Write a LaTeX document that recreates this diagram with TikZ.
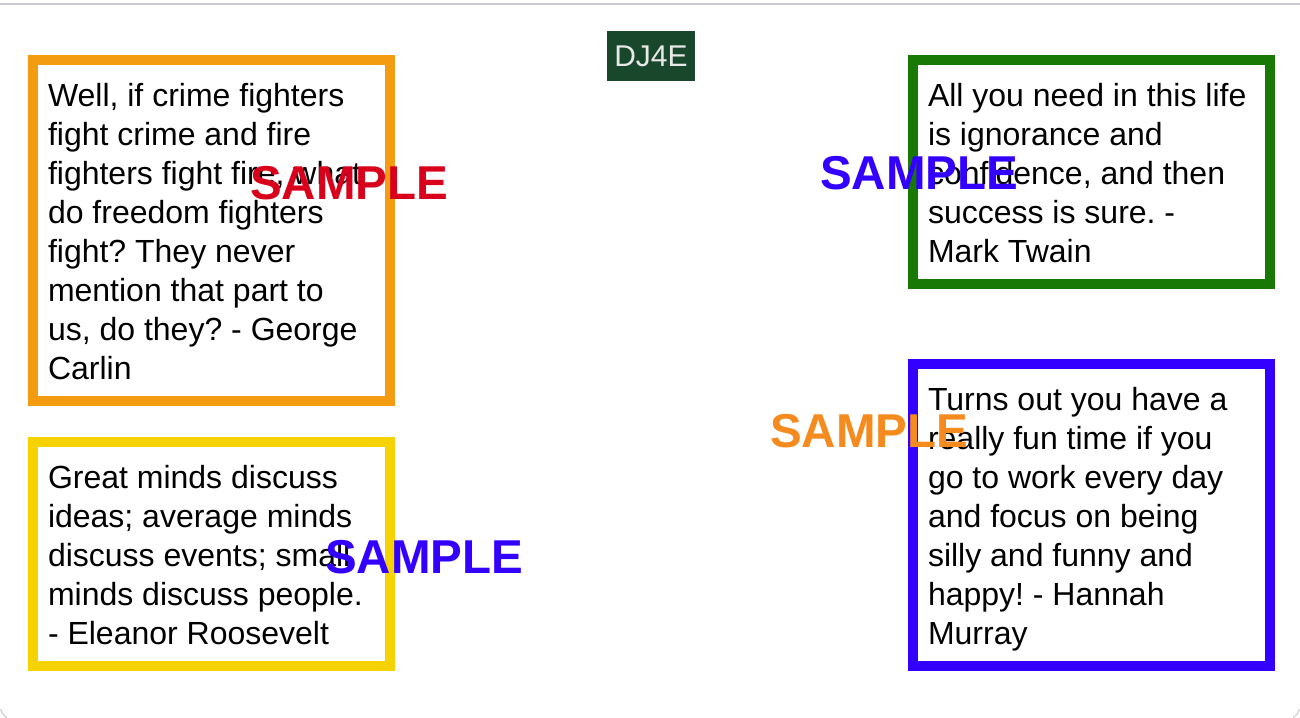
\documentclass[tikz,border=0pt]{standalone}
\usepackage{fontspec}
\setmainfont{Liberation Sans}
\definecolor{frameclr}{HTML}{CACACE}
\definecolor{logobg}{HTML}{18472C}
\definecolor{logotxt}{HTML}{E8E8E8}
\definecolor{carlinclr}{HTML}{F39C12}
\definecolor{twainclr}{HTML}{187A04}
\definecolor{murrayclr}{HTML}{3300FF}
\definecolor{rooseveltclr}{HTML}{F6D300}
\definecolor{stampred}{HTML}{D9001B}
\definecolor{stampblue}{HTML}{3300FF}
\definecolor{stamporange}{HTML}{F58A1F}

\begin{document}
\begin{tikzpicture}[x=1pt,y=-1pt,
  quotebox/.style={draw=#1, fill=white, line width=10pt, anchor=north west,
    inner sep=15pt, outer sep=0pt, text width=327pt, align=flush left,
    font=\frenchspacing\fontsize{32}{39}\selectfont},
  stamp/.style={text=#1, anchor=base west, inner sep=0pt,
    font=\bfseries\fontsize{47.5}{56}\selectfont}]
  \def\qs{\rule[-7pt]{0pt}{38pt}}

  \useasboundingbox (0,0) rectangle (1300,717);
  \fill[white] (0,0) rectangle (1300,717);
  \draw[frameclr,line width=2pt] (0,4) -- (1300,4);
  \draw[frameclr,line width=1pt] (0.5,709) to[bend right=20] (7,717.5)
                                 (1293,717.5) to[bend right=20] (1299.5,709);

  \node[fill=logobg, text=logotxt, minimum width=88pt, minimum height=50pt,
    inner sep=0pt, font=\fontsize{30}{36}\selectfont] (logo) at (651,56) {DJ4E};

  % the four quotes
  \node[quotebox=carlinclr] (carlin) at (33,60) {\qs Well, if crime fighters\\
    fight crime and fire\\ fighters fight fire, what\\ do freedom fighters\\
    fight? They never\\ mention that part to\\ us, do they? - George\\ Carlin\qs};
  \node[quotebox=rooseveltclr] (roosevelt) at (33,442) {\qs Great minds discuss\\
    ideas; average minds\\ discuss events; small\\ minds discuss people.\\
    - Eleanor Roosevelt\qs};
  \node[quotebox=twainclr] (twain) at (913,60) {\qs All you need in this life\\
    is ignorance and\\ confidence, and then\\ success is sure. -\\ Mark Twain\qs};
  \node[quotebox=murrayclr] (murray) at (913,364) {\qs Turns out you have a\\
    really fun time if you\\ go to work every day\\ and focus on being\\
    silly and funny and\\ happy! - Hannah\\ Murray\qs};

  \foreach \x/\y/\clr in {250/199/stampred, 820/189/stampblue,
    770/447/stamporange, 325/573/stampblue}{
    \node[stamp=\clr] (stamp\x) at (\x,\y) {SAMPLE};
  }
\end{tikzpicture}
\end{document}
